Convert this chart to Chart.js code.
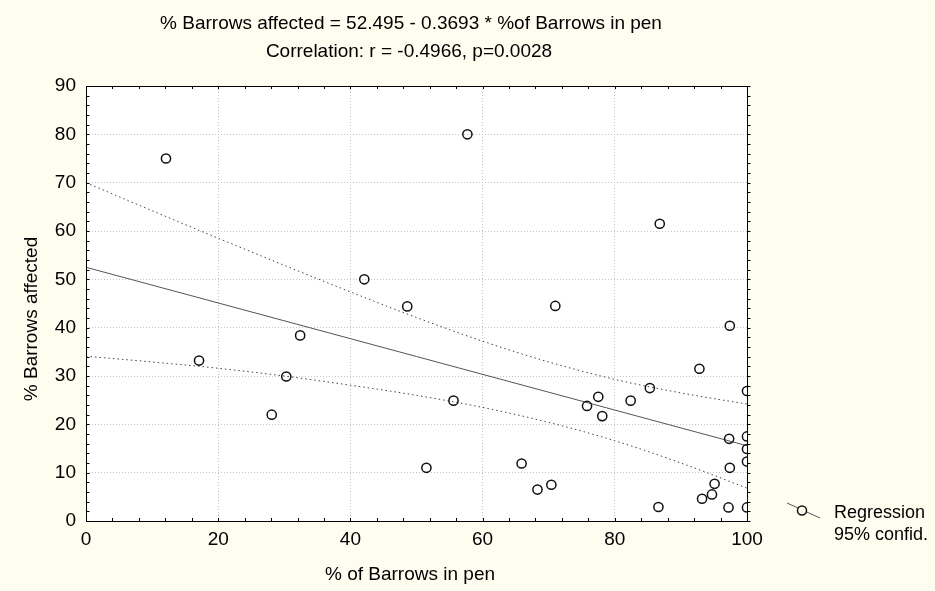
<!DOCTYPE html>
<html>
<head>
<meta charset="utf-8">
<script src="https://cdn.jsdelivr.net/npm/chart.js@4.4.1/dist/chart.umd.min.js"></script>
<style>
  html, body { margin: 0; padding: 0; background: #fffdf0; }
  #wrap { width: 935px; height: 591px; }
</style>
</head>
<body>
<div id="wrap"><canvas id="c" width="935" height="591"></canvas></div>
<script>
// ---- data ----
const penPct = [12.1, 42.1, 48.6, 57.7, 86.8, 71.0, 17.1, 32.4, 30.3, 28.1,
                55.6, 51.5, 65.9, 68.3, 70.4, 75.8, 77.5, 78.1, 82.4, 85.3,
                86.6, 92.8, 93.2, 94.7, 95.1, 97.4, 97.3, 97.4, 97.2, 100,
                100, 100, 100, 100];
const affectedPct = [75.0, 50.0, 44.4, 80.0, 61.5, 44.5, 33.2, 38.4, 29.9, 22.0,
                     24.9, 11.0, 11.9, 6.5, 7.5, 23.8, 25.7, 21.7, 24.9, 27.5,
                     2.9, 31.5, 4.6, 5.5, 7.7, 40.4, 17.0, 11.0, 2.8, 26.9,
                     17.5, 14.9, 12.3, 2.8];
const regX = [0, 100];
const regY = [52.495, 15.565];
const bandX = [0, 10, 20, 30, 40, 50, 60, 70, 80, 90, 100];
const upperY = [70.0, 64.2, 58.5, 52.9, 47.4, 42.1, 37.2, 32.9, 29.3, 26.5, 24.2];
const lowerY = [34.1, 32.9, 31.6, 30.0, 28.1, 26.0, 23.5, 20.4, 16.6, 12.0, 6.8];
const xTicks = [0, 20, 40, 60, 80, 100];
const yTicks = [0, 10, 20, 30, 40, 50, 60, 70, 80, 90];
const titleLines = ["% Barrows affected = 52.495 - 0.3693 * %of Barrows in pen",
                    "Correlation: r = -0.4966, p=0.0028"];
const xTitle = "% of Barrows in pen";
const yTitle = "% Barrows affected";
const legendLabels = ["Regression", "95% confid."];

const FONT = "'Liberation Sans', Arial, sans-serif";
const pts = (xs, ys) => xs.map((x, i) => ({ x: x, y: ys[i] }));

const decor = {
  id: 'decor',
  beforeDraw(chart) {
    const { ctx, chartArea: a } = chart;
    ctx.save();
    ctx.fillStyle = '#fffdf0';
    ctx.fillRect(0, 0, chart.width, chart.height);
    ctx.fillStyle = '#ffffff';
    ctx.fillRect(a.left, a.top, a.right - a.left, a.bottom - a.top);
    ctx.restore();
  },
  afterDraw(chart) {
    const { ctx, chartArea: a } = chart;
    const xs = chart.scales.x, ys = chart.scales.y;
    ctx.save();
    // frame
    ctx.strokeStyle = '#000';
    ctx.lineWidth = 1;
    ctx.strokeRect(a.left + 0.5, a.top + 0.5, a.right - a.left, a.bottom - a.top);
    // minor ticks
    ctx.beginPath();
    for (let v = 0; v <= 100; v += 4) {
      const p = Math.round(xs.getPixelForValue(v)) + 0.5;
      ctx.moveTo(p, a.bottom); ctx.lineTo(p, a.bottom - 3);
      ctx.moveTo(p, a.top); ctx.lineTo(p, a.top + 3);
    }
    for (let v = 0; v <= 90; v += 2) {
      const p = Math.round(ys.getPixelForValue(v)) + 0.5;
      ctx.moveTo(a.left, p); ctx.lineTo(a.left + 3.5, p);
      ctx.moveTo(a.right, p); ctx.lineTo(a.right + 3.5, p);
    }
    ctx.stroke();
    // titles
    ctx.fillStyle = '#000';
    ctx.textAlign = 'center';
    ctx.textBaseline = 'alphabetic';
    ctx.font = '19px ' + FONT;
    ctx.fillText(titleLines[0], 411, 29);
    ctx.fillText(titleLines[1], 409, 57);
    ctx.font = '19px ' + FONT;
    ctx.fillText(xTitle, 410, 580);
    ctx.save();
    ctx.translate(37, 319);
    ctx.rotate(-Math.PI / 2);
    ctx.fillText(yTitle, 0, 0);
    ctx.restore();
    // legend
    ctx.strokeStyle = '#555';
    ctx.lineWidth = 1;
    ctx.beginPath();
    ctx.moveTo(787, 503); ctx.lineTo(820, 518);
    ctx.stroke();
    ctx.beginPath();
    ctx.arc(802, 510.5, 4.5, 0, Math.PI * 2);
    ctx.fillStyle = '#fffdf0';
    ctx.fill();
    ctx.strokeStyle = '#111';
    ctx.lineWidth = 1.5;
    ctx.stroke();
    ctx.fillStyle = '#000';
    ctx.textAlign = 'left';
    ctx.font = '18px ' + FONT;
    ctx.fillText(legendLabels[0], 834, 518);
    ctx.fillText(legendLabels[1], 834, 540);
    ctx.restore();
  }
};

new Chart(document.getElementById('c'), {
  type: 'scatter',
  data: {
    datasets: [
      { data: pts(regX, regY), showLine: true, borderColor: '#555', borderWidth: 1,
        pointRadius: 0, order: 3 },
      { data: pts(bandX, upperY), showLine: true, borderColor: '#444', borderWidth: 1,
        borderDash: [1.5, 3], pointRadius: 0, cubicInterpolationMode: 'monotone', order: 2 },
      { data: pts(bandX, lowerY), showLine: true, borderColor: '#444', borderWidth: 1,
        borderDash: [1.5, 3], pointRadius: 0, cubicInterpolationMode: 'monotone', order: 2 },
      { data: pts(penPct, affectedPct), showLine: false, pointRadius: 4.6,
        pointBorderWidth: 1.5, pointBorderColor: '#111',
        pointBackgroundColor: 'rgba(0,0,0,0)', clip: 0, order: 1 }
    ]
  },
  options: {
    responsive: false,
    devicePixelRatio: 1,
    animation: false,
    events: [],
    layout: { padding: { left: 0, top: 86, right: 188, bottom: 0 } },
    plugins: { legend: { display: false }, title: { display: false }, tooltip: { enabled: false } },
    scales: {
      x: {
        type: 'linear', min: 0, max: 100,
        afterBuildTicks: (s) => { s.ticks = xTicks.map(v => ({ value: v })); },
        afterFit: (s) => { s.height = 70; },
        ticks: { color: '#000', font: { family: FONT, size: 19 }, padding: 7, maxRotation: 0 },
        grid: { color: '#c4c4c4', lineWidth: 1, drawTicks: false },
        border: { display: false, dash: [1, 2] }
      },
      y: {
        type: 'linear', min: 0, max: 90,
        afterBuildTicks: (s) => { s.ticks = yTicks.map(v => ({ value: v })); },
        afterFit: (s) => { s.width = 86; },
        ticks: { color: '#000', font: { family: FONT, size: 19 }, padding: 10 },
        grid: { color: '#c4c4c4', lineWidth: 1, drawTicks: false },
        border: { display: false, dash: [1, 2] }
      }
    }
  },
  plugins: [decor]
});
</script>
</body>
</html>
